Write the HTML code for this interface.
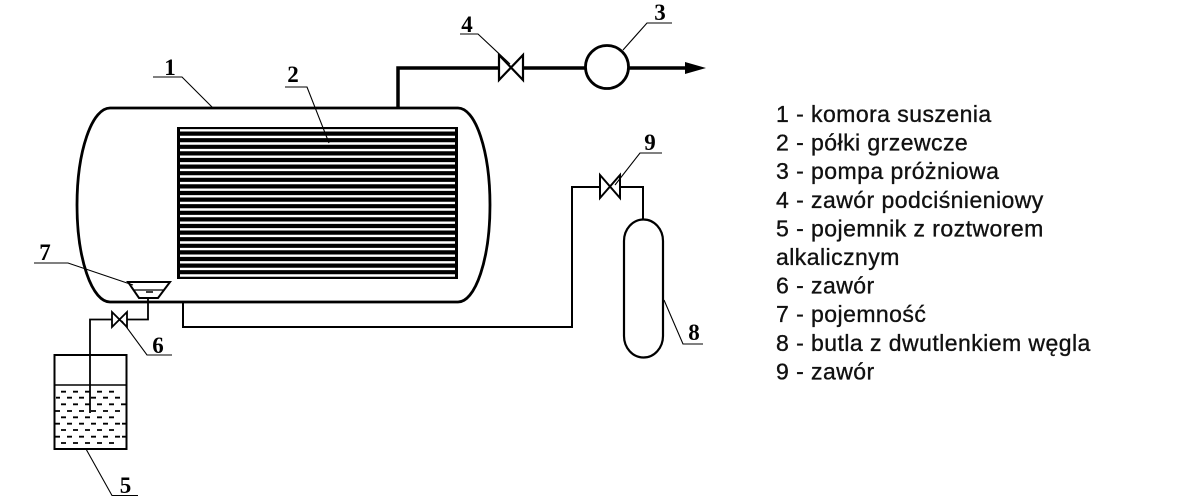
<!DOCTYPE html>
<html>
<head>
<meta charset="utf-8">
<style>
  html,body{margin:0;padding:0;background:#fff;}
  body{width:1200px;height:500px;overflow:hidden;}
  svg{display:block;}
  .lbl{font-family:"Liberation Serif",serif;font-weight:bold;font-size:23px;fill:#000;}
  .leg{font-family:"Liberation Sans",sans-serif;font-size:23px;fill:#111;letter-spacing:0.45px;stroke:#111;stroke-width:0.35px;}
</style>
</head>
<body>
<svg width="1200" height="500" viewBox="0 0 1200 500" xmlns="http://www.w3.org/2000/svg">
  <rect x="0" y="0" width="1200" height="500" fill="#fff"/>

  <!-- Chamber 1 -->
  <path d="M110,108 H458 A32,97 0 0 1 458,302 H110 A33,97 0 0 1 110,108 Z" fill="none" stroke="#000" stroke-width="2.8"/>

  <!-- Shelves 2 -->
  <rect x="177" y="127" width="281" height="152" fill="#000"/>
  <g stroke="#fff" stroke-width="2.4">
    <line x1="180" y1="130.3" x2="455" y2="130.3"/>
    <line x1="180" y1="136.9" x2="455" y2="136.9"/>
    <line x1="180" y1="143.5" x2="455" y2="143.5"/>
    <line x1="180" y1="150.1" x2="455" y2="150.1"/>
    <line x1="180" y1="156.7" x2="455" y2="156.7"/>
    <line x1="180" y1="163.3" x2="455" y2="163.3"/>
    <line x1="180" y1="169.9" x2="455" y2="169.9"/>
    <line x1="180" y1="176.5" x2="455" y2="176.5"/>
    <line x1="180" y1="183.1" x2="455" y2="183.1"/>
    <line x1="180" y1="189.7" x2="455" y2="189.7"/>
    <line x1="180" y1="196.3" x2="455" y2="196.3"/>
    <line x1="180" y1="202.9" x2="455" y2="202.9"/>
    <line x1="180" y1="209.5" x2="455" y2="209.5"/>
    <line x1="180" y1="216.1" x2="455" y2="216.1"/>
    <line x1="180" y1="222.7" x2="455" y2="222.7"/>
    <line x1="180" y1="229.3" x2="455" y2="229.3"/>
    <line x1="180" y1="235.9" x2="455" y2="235.9"/>
    <line x1="180" y1="242.5" x2="455" y2="242.5"/>
    <line x1="180" y1="249.1" x2="455" y2="249.1"/>
    <line x1="180" y1="255.7" x2="455" y2="255.7"/>
    <line x1="180" y1="262.3" x2="455" y2="262.3"/>
    <line x1="180" y1="268.9" x2="455" y2="268.9"/>
    <line x1="180" y1="275.5" x2="455" y2="275.5"/>
  </g>

  <!-- Top vacuum line -->
  <polyline points="398,108 398,68 499,68" fill="none" stroke="#000" stroke-width="3.5"/>
  <line x1="523" y1="68" x2="585" y2="68" stroke="#000" stroke-width="3.5"/>
  <!-- Valve 4 -->
  <polygon points="499,55 499,80 511,67.5" fill="#fff" stroke="#000" stroke-width="2.2"/>
  <polygon points="523,55 523,80 511,67.5" fill="#fff" stroke="#000" stroke-width="2.2"/>
  <!-- Pump 3 -->
  <circle cx="607" cy="67" r="21.5" fill="#fff" stroke="#000" stroke-width="2.8"/>
  <line x1="629" y1="68" x2="688" y2="68" stroke="#000" stroke-width="3.5"/>
  <polygon points="685,62 706,68 685,74" fill="#000"/>

  <!-- Bottom CO2 line -->
  <polyline points="183,302 183,327 572,327 572,187 600,187" fill="none" stroke="#000" stroke-width="2"/>
  <polyline points="620,187 643,187 643,220" fill="none" stroke="#000" stroke-width="2"/>
  <!-- Valve 9 -->
  <polygon points="600,175 600,198 610,186.5" fill="#fff" stroke="#000" stroke-width="2"/>
  <polygon points="620,175 620,198 610,186.5" fill="#fff" stroke="#000" stroke-width="2"/>
  <!-- Cylinder 8 -->
  <path d="M624,241 A19.5,21.5 0 0 1 663,241 V336 A19.5,21.5 0 0 1 624,336 Z" fill="#fff" stroke="#000" stroke-width="2.2"/>

  <!-- Container 7 -->
  <polygon points="128,282 170,282 158,298 139,298" fill="#fff" stroke="#000" stroke-width="2"/>
  <line x1="134" y1="290" x2="164" y2="290" stroke="#000" stroke-width="1.3"/>
  <line x1="146" y1="292" x2="153" y2="292" stroke="#000" stroke-width="1.5"/>
  <!-- pipe from 7 to valve 6 to vessel 5 -->
  <polyline points="148,298 148,319.5 127,319.5" fill="none" stroke="#000" stroke-width="1.8"/>
  <polyline points="112,319.5 90,319.5 90,413" fill="none" stroke="#000" stroke-width="1.8"/>
  <!-- Valve 6 -->
  <polygon points="112,312 112,327 119.5,319.5" fill="#fff" stroke="#000" stroke-width="1.8"/>
  <polygon points="127,312 127,327 119.5,319.5" fill="#fff" stroke="#000" stroke-width="1.8"/>

  <!-- Vessel 5 -->
  <rect x="54.5" y="355" width="72" height="94" fill="#fff" stroke="#000" stroke-width="2"/>
  <line x1="54.5" y1="385" x2="126.5" y2="385" stroke="#000" stroke-width="1.5"/>
  <line x1="90" y1="355" x2="90" y2="413" stroke="#000" stroke-width="1.8"/>
  <g stroke="#000" stroke-width="1.8">
    <path d="M61,391.7h5 M73,391.7h5 M85,391.7h5 M97,391.7h5 M109,391.7h5"/>
    <path d="M56,397.7h4 M67,397.7h5 M79,397.7h5 M91,397.7h5 M103,397.7h5 M115,397.7h5"/>
    <path d="M61,404.3h5 M73,404.3h5 M85,404.3h5 M97,404.3h5 M109,404.3h5 M121,404.3h5"/>
    <path d="M55,411h5 M67,411h5 M79,411h5 M91,411h5 M103,411h5 M115,411h5"/>
    <path d="M61,417.3h5 M73,417.3h5 M85,417.3h5 M97,417.3h5 M109,417.3h5"/>
    <path d="M55,423.7h5 M67,423.7h5 M79,423.7h5 M91,423.7h5 M103,423.7h5 M115,423.7h5 M122,423.7h4"/>
    <path d="M61,430h5 M73,430h5 M85,430h5 M97,430h5 M109,430h5"/>
    <path d="M55,436.7h5 M67,436.7h5 M79,436.7h5 M91,436.7h5 M103,436.7h5 M115,436.7h5 M122,436.7h4"/>
    <path d="M61,443h5 M73,443h5 M85,443h5 M97,443h5 M109,443h5"/>
  </g>

  <!-- Leader lines -->
  <g stroke="#000" stroke-width="1.1" fill="none">
    <polyline points="153,77 182,77 213,108"/>
    <polyline points="285,87 307,87 329,143"/>
    <polyline points="672,23 647,23 623,50"/>
    <polyline points="460,34 478,34 510,64"/>
    <polyline points="138,495.5 112,495.5 86,449"/>
    <polyline points="172,355 147,355 122,321"/>
    <polyline points="34,263 68,263 133,285"/>
    <polyline points="703,344 683,344 664,300"/>
    <polyline points="662,153 640,153 615,185"/>
  </g>

  <!-- Labels -->
  <text class="lbl" x="170" y="75" text-anchor="middle">1</text>
  <text class="lbl" x="293" y="82" text-anchor="middle">2</text>
  <text class="lbl" x="660" y="20" text-anchor="middle">3</text>
  <text class="lbl" x="467" y="32" text-anchor="middle">4</text>
  <text class="lbl" x="125.5" y="493" text-anchor="middle">5</text>
  <text class="lbl" x="158" y="353" text-anchor="middle">6</text>
  <text class="lbl" x="45" y="260" text-anchor="middle">7</text>
  <text class="lbl" x="694" y="340" text-anchor="middle">8</text>
  <text class="lbl" x="650" y="150" text-anchor="middle">9</text>

  <!-- Legend -->
  <text class="leg" x="776" y="122">1 - komora suszenia</text>
  <text class="leg" x="776" y="150.6">2 - półki grzewcze</text>
  <text class="leg" x="776" y="179.2">3 - pompa próżniowa</text>
  <text class="leg" x="776" y="207.8">4 - zawór podciśnieniowy</text>
  <text class="leg" x="776" y="236.4">5 - pojemnik z roztworem</text>
  <text class="leg" x="776" y="265">alkalicznym</text>
  <text class="leg" x="776" y="293.6">6 - zawór</text>
  <text class="leg" x="776" y="322.2">7 - pojemność</text>
  <text class="leg" x="776" y="350.8">8 - butla z dwutlenkiem węgla</text>
  <text class="leg" x="776" y="379.4">9 - zawór</text>
</svg>
</body>
</html>
